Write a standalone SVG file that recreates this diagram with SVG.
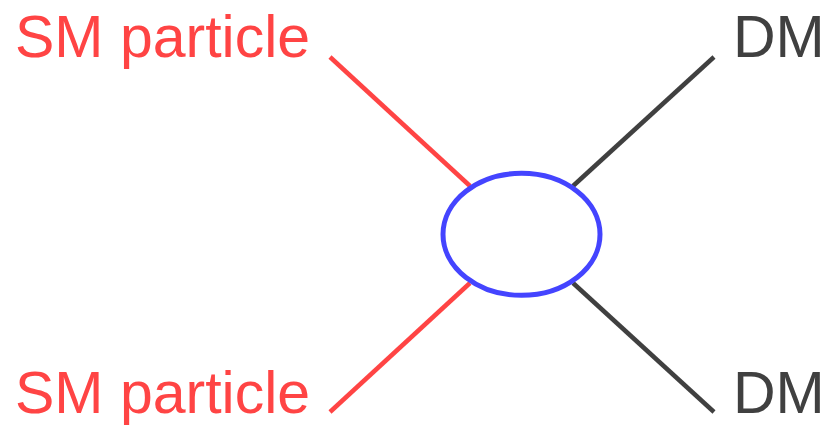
<svg xmlns="http://www.w3.org/2000/svg" width="829" height="425" viewBox="0 0 829 425">
<style>
.lbl{font-family:"Liberation Sans",Arial,sans-serif;font-size:59px}
.sm{fill:#ff4444}
.dm{fill:#404040}
.l{stroke-width:4.5;fill:none}
</style>
<rect width="829" height="425" fill="#ffffff"/>
<g id="connectors">
<line class="l" x1="330" y1="57" x2="470" y2="186" stroke="#ff4444"/>
<line class="l" x1="330" y1="412" x2="470" y2="283" stroke="#ff4444"/>
<line class="l" x1="714" y1="57" x2="573" y2="186" stroke="#404040"/>
<line class="l" x1="714" y1="412" x2="573" y2="283" stroke="#404040"/>
</g>
<g id="vertex">
<ellipse cx="521.5" cy="234.3" rx="78.5" ry="61" fill="#ffffff" stroke="#4444ff" stroke-width="5"/>
</g>
<g id="sm1"><text class="lbl sm" x="15" y="57">SM particle</text></g>
<g id="sm2"><text class="lbl sm" x="15" y="413">SM particle</text></g>
<g id="dm1"><text class="lbl dm" x="733" y="57">DM</text></g>
<g id="dm2"><text class="lbl dm" x="733" y="413">DM</text></g>
</svg>
